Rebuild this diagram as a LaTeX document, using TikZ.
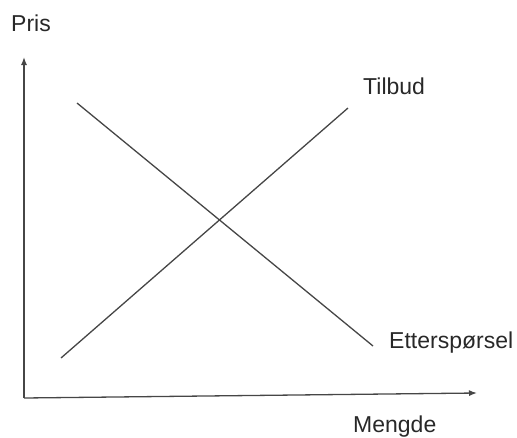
\documentclass[tikz,border=0pt]{standalone}
\usepackage{fontspec}
\setmainfont{Liberation Sans}
\usetikzlibrary{arrows.meta,positioning}
\definecolor{linegray}{RGB}{70,70,70}
\definecolor{textgray}{RGB}{40,40,40}

\begin{document}
\begin{tikzpicture}[x=1pt, y=-1pt,
    axis/.style={line width=1.3pt, linegray, -{Latex[length=8pt,width=6pt]}},
    curve/.style={line width=1.3pt, linegray},
    lbl/.style={anchor=base west, inner sep=0pt, text=textgray, font=\fontsize{23}{27}\selectfont}]
        \useasboundingbox (0,0) rectangle (517,437);
        % axes
        \coordinate (origo) at (24,398);
        \coordinate (ytopp) at (24,57);
        \coordinate (xende) at (477,393);
        \draw[axis] (origo) -- (ytopp);
        \draw[axis] (origo) -- (xende);
        \node[lbl] (pris) at (11,31) {Pris};
        \node[lbl] (mengde) at (353,432) {Mengde};
        % tilbud og etterspørsel
        \coordinate (t0) at (61,358);
        \coordinate (t1) at (348,108);
        \coordinate (e0) at (77,103);
        \coordinate (e1) at (373,346);
        \draw[curve] (t0) -- (t1);
        \draw[curve] (e0) -- (e1);
        \node[lbl] (tilbud) at (363,94) {Tilbud};
        \node[lbl] (etterspørsel) at (389,348) {Etterspørsel};
    \end{tikzpicture}
\end{document}
